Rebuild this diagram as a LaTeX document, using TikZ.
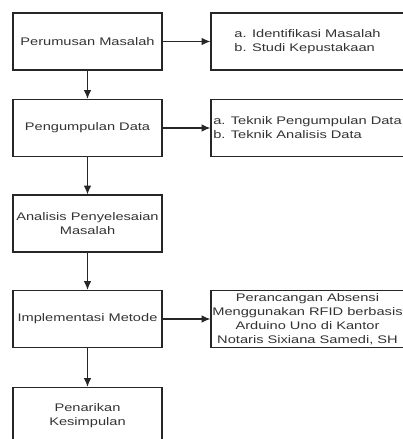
\documentclass[tikz,border=0pt]{standalone}
\usepackage{fontspec}
\setmainfont[FakeStretch=1.33]{Liberation Sans}
\usetikzlibrary{arrows.meta}
\tikzset{>={Latex[length=6.5pt,width=5.5pt]}}
\tikzstyle{proses}=[rectangle,draw=black!85,line width=0.9pt,minimum width=149*0.75pt,minimum height=57*0.75pt,inner sep=0pt,align=center,text=black!80,font=\fontsize{8.25}{10.5}\selectfont]
\tikzstyle{hasil}=[proses,minimum width=198*0.75pt]
\tikzstyle{panah}=[->,draw=black!85,line width=0.9pt]

\begin{document}
\begin{tikzpicture}[x=0.75pt,y=-0.75pt]
	\def \kiri {87.5};
	\def \kanan {307.5};
	\clip (0,0) rectangle (403,439);
	\fill[white] (0,0) rectangle (403,439);

	\node[proses] (rumus) at (\kiri ,41.5) {Perumusan Masalah};
	\node[proses] (kumpul) at (\kiri ,128) {Pengumpulan Data};
	\node[proses] (analisis) at (\kiri ,223.5) {Analisis Penyelesaian\\Masalah};
	\node[proses] (metode) at (\kiri ,319) {Implementasi Metode};
	\node[proses] (simpul) at (\kiri ,416) {Penarikan\\Kesimpulan};

	\node[hasil, align=left, minimum width=193*0.75pt] (identifikasi) at (\kanan ,41.5) {a. Identifikasi Masalah\\b. Studi Kepustakaan};
	\node[hasil, align=left, minimum width=193*0.75pt] (teknik) at (\kanan ,128) {a. Teknik Pengumpulan Data\\b. Teknik Analisis Data};
	\node[hasil, minimum width=193*0.75pt] (absensi) at (\kanan ,319) {Perancangan Absensi\\Menggunakan RFID berbasis\\Arduino Uno di Kantor\\Notaris Sixiana Samedi, SH};

	\draw[panah] (rumus) -- (kumpul);
	\draw[panah] (kumpul) -- (analisis);
	\draw[panah] (analisis) -- (metode);
	\draw[panah] (metode) -- (simpul);

	\draw[panah] (rumus) -- (identifikasi);
	\draw[panah] (kumpul) -- (teknik);
	\draw[panah] (metode) -- (absensi);

\end{tikzpicture}
\end{document}
